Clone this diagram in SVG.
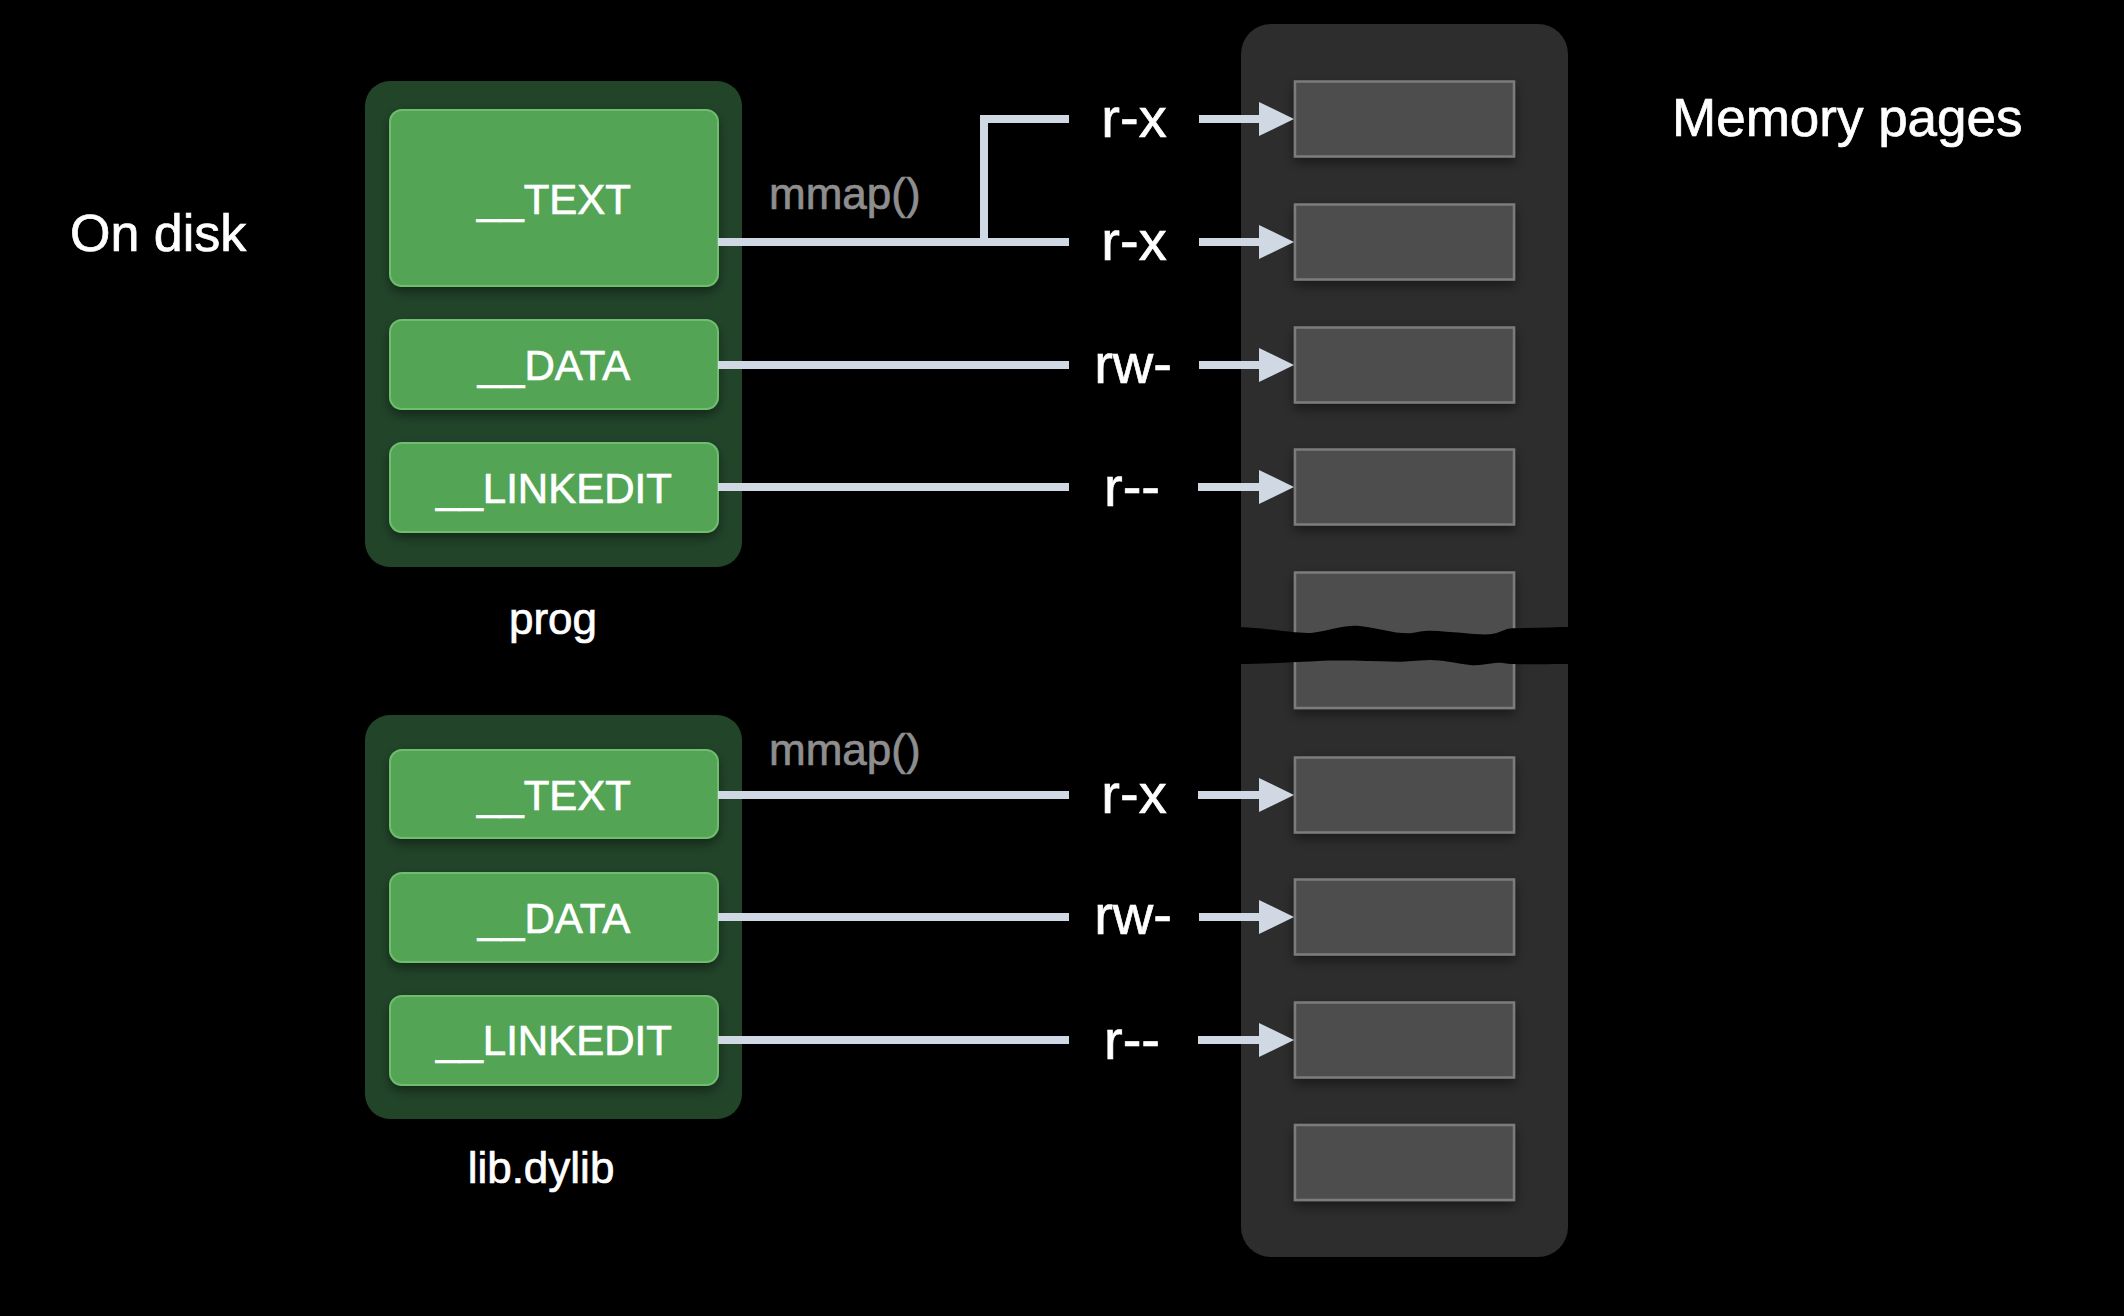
<svg xmlns="http://www.w3.org/2000/svg" width="2124" height="1316" viewBox="0 0 2124 1316">
<style>
  text { font-family: "Liberation Sans", Arial, sans-serif; fill: #ffffff; stroke: #ffffff; stroke-width: 0.7px; }
  .title { font-size: 52px; }
  .seg-label { font-size: 42px; text-anchor: middle; }
  .file-label { font-size: 44px; text-anchor: middle; }
  .perm { font-size: 56px; text-anchor: middle; }
  .mmap { font-size: 44px; fill: #8e8e8e; stroke: #8e8e8e; }
  .container { fill: #22452a; }
  .seg { fill: #52a555; stroke: #6fbd6f; stroke-width: 2; }
  .mem { fill: #2c2d2c; }
  .page { fill: #4d4e4d; stroke: #7b7c7b; stroke-width: 2.5; }
  .conn { fill: none; stroke: #cfd8e3; stroke-width: 8; }
</style>
<defs>
  <filter id="shadow" x="-20%" y="-20%" width="140%" height="160%">
    <feDropShadow dx="0" dy="5" stdDeviation="6" flood-color="#000000" flood-opacity="0.45"/>
  </filter>
  <marker id="arrow" markerUnits="userSpaceOnUse" viewBox="0 0 35 34" markerWidth="35" markerHeight="34" refX="2" refY="17" orient="auto">
    <path d="M0,0 L35,17 L0,34 z" fill="#cfd8e3"/>
  </marker>
</defs>
<rect width="2124" height="1316" fill="#000000"/>

<text class="title" x="70" y="251">On disk</text>
<text class="title" x="1672" y="136" style="font-size:53px">Memory pages</text>

<g id="memory">
  <rect class="mem" x="1241" y="24" width="327" height="1233" rx="30"/>
  <g filter="url(#shadow)">
    <rect class="page" x="1295" y="81.5" width="219" height="75"/>
    <rect class="page" x="1295" y="204.5" width="219" height="75"/>
    <rect class="page" x="1295" y="327.5" width="219" height="75"/>
    <rect class="page" x="1295" y="449.5" width="219" height="75"/>
    <rect class="page" x="1295" y="572.5" width="219" height="135.5"/>
    <rect class="page" x="1295" y="757.5" width="219" height="75"/>
    <rect class="page" x="1295" y="879.5" width="219" height="75"/>
    <rect class="page" x="1295" y="1002.5" width="219" height="75"/>
    <rect class="page" x="1295" y="1125" width="219" height="75"/>
  </g>
  <path d="M1238,627 C1270,628 1295,634 1313,632.7 C1330,630 1345,625 1357,625.7 C1375,627 1395,634 1410,633.3 C1418,632 1424,630.5 1430,630.7 C1455,631.5 1475,635 1490,634.3 C1500,633.5 1505,628 1513,628.3 C1535,628 1555,627 1572,627 L1572,664 C1555,664 1530,664.5 1513,664 C1505,663.5 1502,662.5 1497,662.7 C1488,663.5 1478,666 1470,665 C1455,663 1442,660 1430,660 C1415,660.5 1405,662 1397,661.7 C1370,661 1345,660 1323,660.7 C1295,662 1265,664 1238,664 z" fill="#000000"/>
</g>

<g id="prog">
  <rect class="container" x="365" y="81" width="377" height="486" rx="25"/>
  <g filter="url(#shadow)">
    <rect class="seg" x="390" y="110" width="328" height="176" rx="12"/>
    <rect class="seg" x="390" y="320" width="328" height="89" rx="12"/>
    <rect class="seg" x="390" y="443" width="328" height="89" rx="12"/>
  </g>
  <text class="seg-label" x="554" y="214">__TEXT</text>
  <text class="seg-label" x="554" y="380">__DATA</text>
  <text class="seg-label" x="554" y="503">__LINKEDIT</text>
  <text class="file-label" x="553" y="634">prog</text>
</g>

<g id="libdylib">
  <rect class="container" x="365" y="715" width="377" height="404" rx="25"/>
  <g filter="url(#shadow)">
    <rect class="seg" x="390" y="750" width="328" height="88" rx="12"/>
    <rect class="seg" x="390" y="873" width="328" height="89" rx="12"/>
    <rect class="seg" x="390" y="996" width="328" height="89" rx="12"/>
  </g>
  <text class="seg-label" x="554" y="810">__TEXT</text>
  <text class="seg-label" x="554" y="933">__DATA</text>
  <text class="seg-label" x="554" y="1055">__LINKEDIT</text>
  <text class="file-label" x="541" y="1183">lib.dylib</text>
</g>

<g id="connectors">
  <path class="conn" d="M718,242 H1069"/>
  <path class="conn" d="M1069,119 H984 V242"/>
  <path class="conn" d="M718,365 H1069"/>
  <path class="conn" d="M718,487 H1069"/>
  <path class="conn" d="M718,795 H1069"/>
  <path class="conn" d="M718,917 H1069"/>
  <path class="conn" d="M718,1040 H1069"/>

  <path class="conn" d="M1199,119 H1261" marker-end="url(#arrow)"/>
  <path class="conn" d="M1199,242 H1261" marker-end="url(#arrow)"/>
  <path class="conn" d="M1199,365 H1261" marker-end="url(#arrow)"/>
  <path class="conn" d="M1198,487 H1261" marker-end="url(#arrow)"/>
  <path class="conn" d="M1198,795 H1261" marker-end="url(#arrow)"/>
  <path class="conn" d="M1199,917 H1261" marker-end="url(#arrow)"/>
  <path class="conn" d="M1198,1040 H1261" marker-end="url(#arrow)"/>

  <text class="mmap" x="769" y="209">mmap()</text>
  <text class="mmap" x="769" y="765">mmap()</text>

  <text class="perm" x="1134" y="137">r-x</text>
  <text class="perm" x="1134" y="260">r-x</text>
  <text class="perm" x="1133" y="383">rw-</text>
  <text class="perm" x="1132" y="506">r--</text>
  <text class="perm" x="1134" y="813">r-x</text>
  <text class="perm" x="1133" y="934">rw-</text>
  <text class="perm" x="1132" y="1059">r--</text>
</g>
</svg>
